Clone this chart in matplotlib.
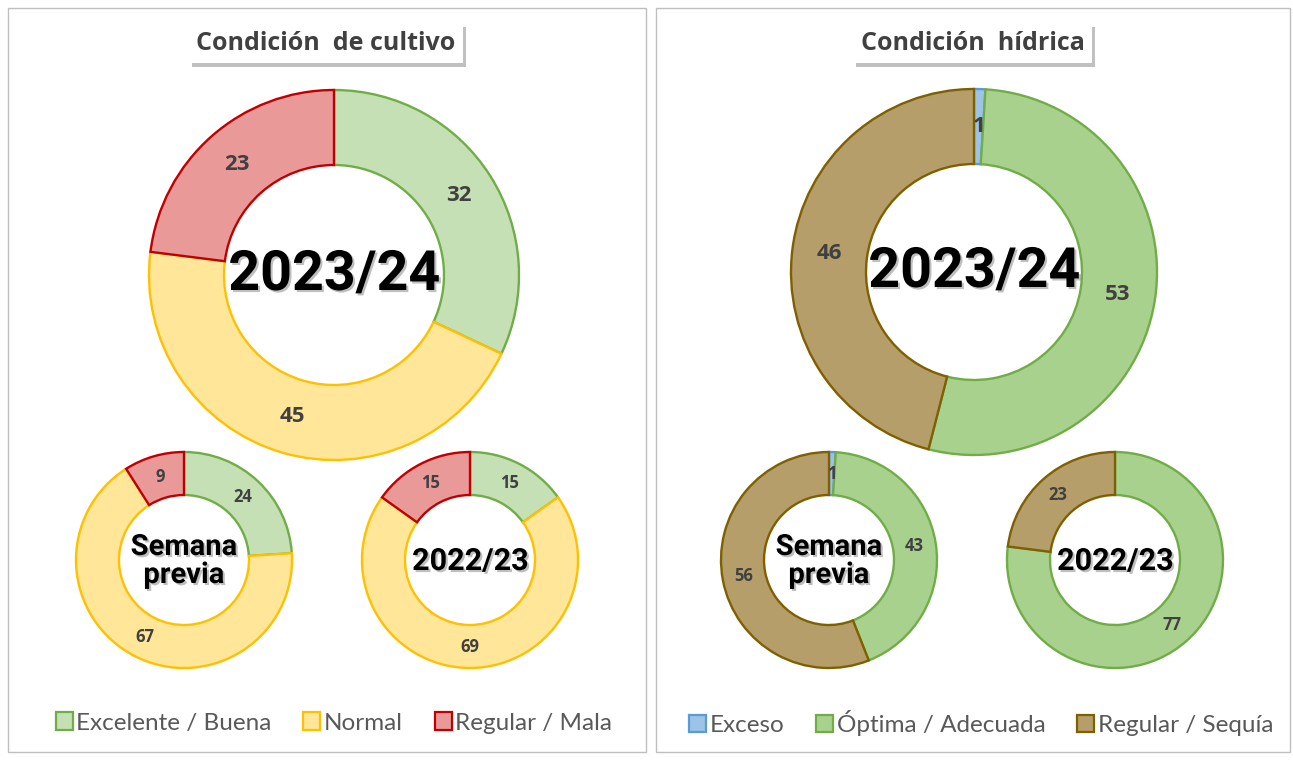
import matplotlib
matplotlib.use('Agg')
import matplotlib.pyplot as plt
import matplotlib.patheffects as pe
from matplotlib.patches import Rectangle
import numpy as np

# Condición de cultivo (%)
cultivo_cats = ['Excelente / Buena', 'Normal', 'Regular / Mala']
cultivo_actual = [32, 45, 23]
cultivo_semana = [24, 67, 9]
cultivo_anterior = [15, 69, 15]

# Condición hídrica (%)
hidrica_cats = ['Exceso', 'Óptima / Adecuada', 'Regular / Sequía']
hidrica_actual = [1, 53, 46]
hidrica_semana = [1, 43, 56]
hidrica_anterior = [0, 77, 23]

cultivo_fill = ['#C5E0B4', '#FFE699', '#EA9999']
cultivo_edge = ['#70AD47', '#FFC000', '#C00000']
hidrica_fill = ['#9DC3E6', '#A9D18E', '#B59E69']
hidrica_edge = ['#5B9BD5', '#70AD47', '#7F6000']

W, H = 1293, 760
fig = plt.figure(figsize=(W / 100, H / 100), dpi=100)
ax = fig.add_axes([0, 0, 1, 1])

CENTER = ['Roboto', 'DejaVu Sans']
TXT = ['Open Sans', 'DejaVu Sans']
LEG = ['Lato', 'DejaVu Sans']
shadow = [pe.withSimplePatchShadow(offset=(1.5, -1.5), shadow_rgbFace='#808080', alpha=0.5)]


def donut(values, cx, cy, r, width, fills, edges, fs):
    # skip zero values so no empty wedge gets stroked
    keep = [i for i, v in enumerate(values) if v > 0]
    vals = [values[i] for i in keep]
    wedges, _ = ax.pie(vals, radius=r, center=(cx, H - cy), startangle=90,
                       counterclock=False, colors=[fills[i] for i in keep],
                       wedgeprops=dict(width=width, linewidth=1.7))
    for w, i, v in zip(wedges, keep, vals):
        w.set_edgecolor(edges[i])
        ang = np.deg2rad((w.theta1 + w.theta2) / 2)
        rr = r - width / 2
        ax.text(cx + rr * np.cos(ang), H - cy + rr * np.sin(ang), f'{v:g}',
                ha='center', va='center', fontsize=fs, fontweight='bold',
                color='#404040', family=TXT)


def center_label(text, cx, cy, fs):
    ax.text(cx, H - cy, text, ha='center', va='center', fontsize=fs,
            fontweight='bold', family=CENTER, color='black',
            linespacing=1.0, path_effects=shadow)


def title(text, cx, cy):
    t = ax.text(cx, H - cy, text, ha='center', va='center', fontsize=18,
                fontweight='bold', color='#404040', family=TXT,
                bbox=dict(boxstyle='square,pad=0.3', fc='white', ec='none'))
    t.get_bbox_patch().set_path_effects(
        [pe.withSimplePatchShadow(offset=(2, -3), shadow_rgbFace='#999999', alpha=0.6)])


# panel frames
ax.add_patch(Rectangle((8, 8), 638, 744, fc='white', ec='#BFBFBF', lw=1))
ax.add_patch(Rectangle((656, 8), 634, 744, fc='white', ec='#BFBFBF', lw=1))

# left panel
donut(cultivo_actual, 334, 275, 185, 75, cultivo_fill, cultivo_edge, 16)
donut(cultivo_semana, 184, 560, 108, 43, cultivo_fill, cultivo_edge, 12)
donut(cultivo_anterior, 470, 560, 108, 43, cultivo_fill, cultivo_edge, 12)
center_label('2023/24', 334, 275, 40)
center_label('Semana\nprevia', 184, 561, 21)
center_label('2022/23', 470, 561, 22)
title('Condición  de cultivo', 326, 43)

# right panel
donut(hidrica_actual, 974, 272, 183, 75, hidrica_fill, hidrica_edge, 16)
donut(hidrica_semana, 829, 560, 108, 43, hidrica_fill, hidrica_edge, 12)
donut(hidrica_anterior, 1115, 560, 108, 43, hidrica_fill, hidrica_edge, 12)
center_label('2023/24', 974, 272, 40)
center_label('Semana\nprevia', 829, 561, 21)
center_label('2022/23', 1115, 561, 22)
title('Condición  hídrica', 973, 43)

ax.set_xlim(0, W)
ax.set_ylim(0, H)
ax.set_aspect('auto')
ax.axis('off')

# legends
for cats, fills, edges, xc in [(cultivo_cats, cultivo_fill, cultivo_edge, 334),
                               (hidrica_cats, hidrica_fill, hidrica_edge, 981)]:
    handles = [Rectangle((0, 0), 1, 1, fc=f, ec=e, lw=1.6) for f, e in zip(fills, edges)]
    fig.legend(handles, cats, loc='center', bbox_to_anchor=(xc / W, (H - 723) / H),
               ncol=3, frameon=False, handlelength=0.7, handleheight=0.7,
               handletextpad=0.15, columnspacing=1.3, labelcolor='#595959',
               prop={'family': LEG, 'size': 17.5})

fig.savefig('out.png', dpi=100)
